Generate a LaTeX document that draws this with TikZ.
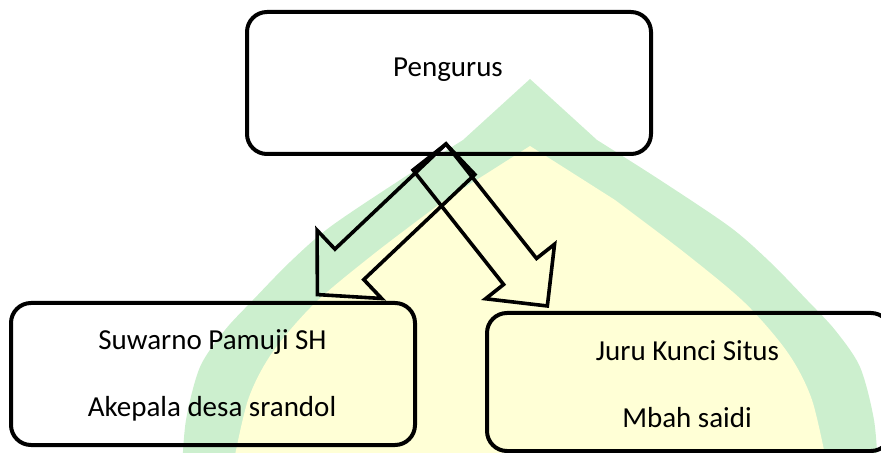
\documentclass[tikz,border=0pt]{standalone}
\usepackage{fontspec}
\setmainfont{Carlito}
\definecolor{wmgreen}{RGB}{204,239,206}
\definecolor{wmyellow}{RGB}{255,255,214}
\begin{document}
\begin{tikzpicture}[x=0.5pt,y=-0.5pt,
  box/.style={draw=black, line width=2pt, rounded corners=10pt, minimum width=202pt, minimum height=71pt, inner sep=0pt},
  lbl/.style={anchor=base, font=\fontsize{14.5}{17}\selectfont, inner sep=0pt},
  blockarrow/.style={draw=black, line width=1.8pt, line join=miter}]
\useasboundingbox (0,0) rectangle (881,453);
\clip (0,0) rectangle (881,453);
% watermark
\fill[wmgreen] plot[smooth] coordinates {(182,470) (186,420) (200,367) (225,330) (253,300) (290,262) (330,227) (400,180) (463,140)} -- (530,79)
  -- plot[smooth] coordinates {(597,140) (660,180) (730,227) (770,262) (807,300) (835,330) (860,367) (874,420) (878,470)} -- cycle;
\fill[wmyellow] plot[smooth] coordinates {(232,470) (248,400) (272,353) (315,303) (375,253) (445,200)} -- (530,146)
  -- plot[smooth] coordinates {(615,200) (685,253) (745,303) (788,353) (812,400) (828,470)} -- cycle;
% boxes
\node[box] (top) at (449,83) {};
\node[box] (left) at (213,374) {};
\node[box, minimum height=69pt] (right) at (689,382) {};
% labels
\node[lbl] (tpeng) at (448,76.7) {Pengurus};
\node[lbl] (tsuw) at (212.5,350) {Suwarno Pamuji SH};
\node[lbl] (tkep) at (212,416.7) {Akepala desa srandol};
\node[lbl] (tjuru) at (687.5,360) {Juru Kunci Situs};
\node[lbl] (tmbah) at (687,427) {Mbah saidi};
% block arrows
\coordinate (P) at (446,144);
\draw[blockarrow, shift={(P)}, x={(-0.363pt,-0.3435pt)}, y={(0.3435pt,-0.363pt)}]
  (0,0) -- (153,0) -- (153,-26) -- (197,21) -- (153,68) -- (153,42) -- (0,42) -- cycle;
\draw[blockarrow, shift={(P)}, x={(0.31pt,-0.392pt)}, y={(-0.392pt,-0.31pt)}]
  (0,0) -- (146,0) -- (146,-23) -- (190,21) -- (146,65) -- (146,42) -- (0,42) -- cycle;
\end{tikzpicture}
\end{document}
